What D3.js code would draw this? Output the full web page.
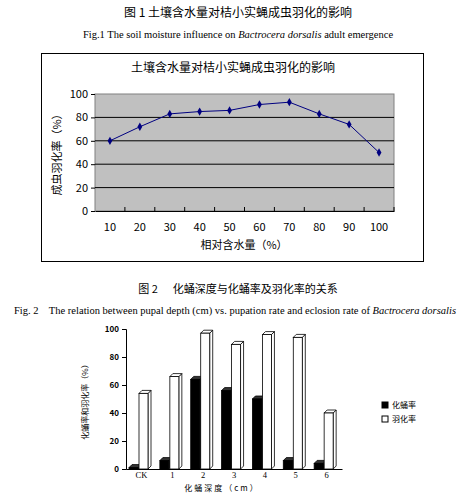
<!DOCTYPE html>
<html lang="zh-CN">
<head>
<meta charset="utf-8">
<script src="https://cdn.jsdelivr.net/npm/d3@7"></script>
<style>
body { margin:0; background:#fff; }
text { font-family: "Noto Sans CJK SC", "Liberation Serif", sans-serif; }
.serif { font-family: "Liberation Serif", "Noto Sans CJK SC", serif; }
</style>
</head>
<body>
<svg id="c" width="476" height="493"></svg>
<script>
// fig 1 data
var moisture = ["10","20","30","40","50","60","70","80","90","100"];
var emergence = [60, 72, 83, 85, 86, 91, 93, 83, 74, 50];
var yTicks1 = [0, 20, 40, 60, 80, 100];
// fig 2 data
var depths = ["CK","1","2","3","4","5","6"];
var pupation = [1, 6, 64, 56, 50, 6, 4];
var eclosion = [54, 66, 97, 89, 96, 94, 40];
var yTicks2 = [0, 20, 40, 60, 80, 100];

var svg = d3.select("#c");

// captions
svg.append("text").attr("x", 238).attr("y", 17).attr("text-anchor", "middle")
   .attr("font-size", 12).text("图 1  土壤含水量对桔小实蝇成虫羽化的影响");
var cap = svg.append("text").attr("class", "serif").attr("x", 238).attr("y", 38)
   .attr("text-anchor", "middle").attr("font-size", 10.5);
cap.append("tspan").text("Fig.1 The soil moisture influence on ");
cap.append("tspan").attr("font-style", "italic").text("Bactrocera dorsalis");
cap.append("tspan").text(" adult emergence");

// ---- figure 1 ----
svg.append("rect").attr("x", 41.5).attr("y", 53.5).attr("width", 382).attr("height", 208)
   .attr("fill", "#fff").attr("stroke", "#000");
svg.append("text").attr("x", 233).attr("y", 72).attr("text-anchor", "middle")
   .attr("font-size", 12).text("土壤含水量对桔小实蝇成虫羽化的影响");

var x1 = d3.scaleBand().domain(moisture).range([95, 394]);
var y1 = d3.scaleLinear().domain([0, 100]).range([211, 94]);
svg.append("rect").attr("x", 95).attr("y", 94).attr("width", 299).attr("height", 117)
   .attr("fill", "#c0c0c0").attr("stroke", "#808080");
svg.append("g").selectAll("line").data(yTicks1.slice(1, 5)).enter().append("line")
   .attr("x1", 95).attr("x2", 394).attr("y1", function (d) { return y1(d); })
   .attr("y2", function (d) { return y1(d); }).attr("stroke", "#000");

var gx1 = svg.append("g").attr("transform", "translate(0,211)")
   .call(d3.axisBottom(x1).tickSize(0).tickPadding(12));
gx1.select(".domain").attr("stroke", "#000");
gx1.selectAll("text").attr("font-size", 11).attr("font-family", "DejaVu Sans Mono");
// tick marks between categories
svg.append("g").selectAll("line").data(moisture).enter().append("line")
   .attr("x1", function (d) { return x1(d) + x1.bandwidth(); })
   .attr("x2", function (d) { return x1(d) + x1.bandwidth(); })
   .attr("y1", 211).attr("y2", 207).attr("stroke", "#000");

var gy1 = svg.append("g").attr("transform", "translate(95,0)")
   .call(d3.axisLeft(y1).tickValues(yTicks1).tickSize(4));
gy1.select(".domain").remove();
gy1.selectAll("text").attr("font-size", 11).attr("font-family", "DejaVu Sans Mono");

var line1 = d3.line()
   .x(function (d, i) { return x1(moisture[i]) + x1.bandwidth() / 2; })
   .y(function (d) { return y1(d); });
svg.append("path").datum(emergence).attr("d", line1)
   .attr("fill", "none").attr("stroke", "#000080").attr("stroke-width", 1);
svg.append("g").selectAll("path").data(emergence).enter().append("path")
   .attr("d", d3.symbol(d3.symbolDiamond, 20))
   .attr("transform", function (d, i) {
     return "translate(" + (x1(moisture[i]) + x1.bandwidth() / 2) + "," + y1(d) + ")";
   }).attr("fill", "#000080");

svg.append("text").attr("transform", "translate(61,152) rotate(-90)")
   .attr("text-anchor", "middle").attr("font-size", 11).text("成虫羽化率（%）");
svg.append("text").attr("x", 244).attr("y", 249).attr("text-anchor", "middle")
   .attr("font-size", 11).text("相对含水量（%）");

// ---- figure 2 ----
svg.append("text").attr("x", 238).attr("y", 293).attr("text-anchor", "middle")
   .attr("font-size", 11).attr("xml:space", "preserve").text("图 2      化蛹深度与化蛹率及羽化率的关系");
var cap2 = svg.append("text").attr("class", "serif").attr("x", 14).attr("y", 314)
   .attr("font-size", 10.5).attr("textLength", 442);
cap2.append("tspan").attr("xml:space", "preserve").text("Fig. 2    The relation between pupal depth (cm) vs. pupation rate and eclosion rate of ");
cap2.append("tspan").attr("font-style", "italic").text("Bactrocera dorsalis");

var x2 = d3.scaleBand().domain(depths).range([126, 342]);
var y2 = d3.scaleLinear().domain([0, 100]).range([469, 329]);
var dep = 3; // 3d depth offset
var bw = 9;

function bar3d(g, vals, off, fill) {
  var grp = g.append("g");
  vals.forEach(function (v, i) {
    var bx = x2(depths[i]) + off, by = y2(v), h = y2(0) - by;
    grp.append("path").attr("d", "M" + (bx + bw) + "," + by + "l" + dep + "," + (-dep) +
      "v" + h + "l" + (-dep) + "," + dep + "z").attr("fill", fill === "#000" ? "#000" : "#fff")
      .attr("stroke", "#000").attr("stroke-width", 0.8);
    grp.append("path").attr("d", "M" + bx + "," + by + "l" + dep + "," + (-dep) +
      "h" + bw + "l" + (-dep) + "," + dep + "z").attr("fill", fill === "#000" ? "#333" : "#fff")
      .attr("stroke", "#000").attr("stroke-width", 0.8);
    grp.append("rect").attr("x", bx).attr("y", by).attr("width", bw).attr("height", h)
      .attr("fill", fill).attr("stroke", "#000").attr("stroke-width", 0.8);
  });
}
bar3d(svg, pupation, 3, "#000");
bar3d(svg, eclosion, 13, "#fff");

var gx2 = svg.append("g").attr("transform", "translate(0,469)")
   .call(d3.axisBottom(x2).tickSize(0).tickPadding(3));
gx2.selectAll("text").attr("class", "serif").attr("font-size", 8.5);
gx2.select(".domain").attr("stroke", "#000");
var gy2 = svg.append("g").attr("transform", "translate(126,0)")
   .call(d3.axisLeft(y2).tickValues(yTicks2).tickSize(4));
gy2.selectAll("text").attr("font-size", 8).attr("font-weight", "bold").attr("font-family", "Liberation Sans");
gy2.select(".domain").attr("stroke", "#000");

svg.append("text").attr("transform", "translate(88,400) rotate(-90)")
   .attr("text-anchor", "middle").attr("font-size", 8).text("化蛹率和羽化率（%）");
svg.append("text").attr("x", 222).attr("y", 491).attr("text-anchor", "middle")
   .attr("font-size", 8).attr("letter-spacing", 2).text("化蛹深度（cm）");

// legend
var leg = [["化蛹率", "#000"], ["羽化率", "#fff"]];
leg.forEach(function (l, i) {
  svg.append("rect").attr("x", 382).attr("y", 402 + i * 14).attr("width", 6).attr("height", 6)
     .attr("fill", l[1]).attr("stroke", "#000");
  svg.append("text").attr("x", 392).attr("y", 408 + i * 14).attr("font-size", 8).text(l[0]);
});
</script>
</body>
</html>
